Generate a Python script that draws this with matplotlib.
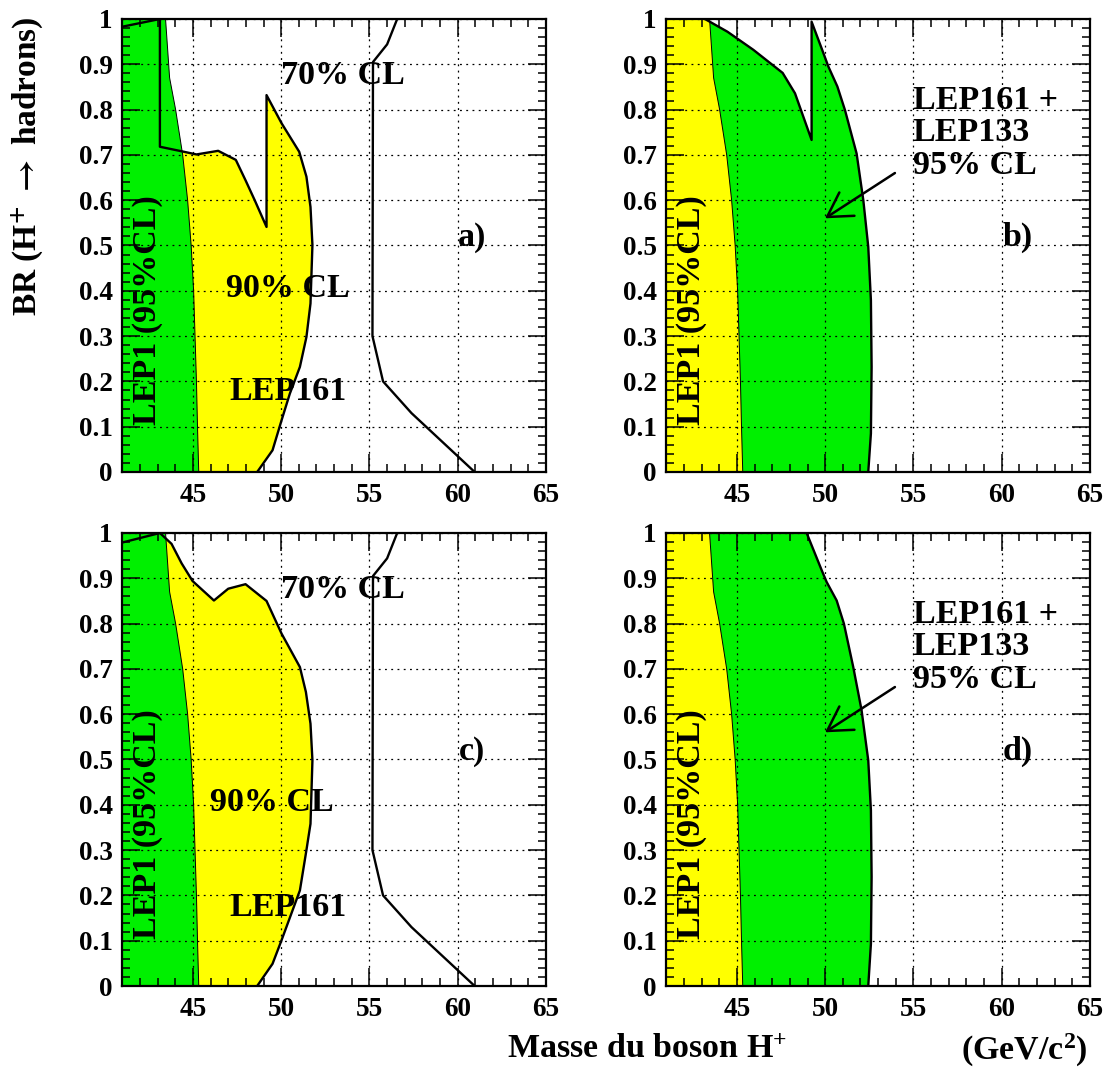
import matplotlib
matplotlib.use('Agg')
import matplotlib.pyplot as plt
from matplotlib.ticker import MultipleLocator, FuncFormatter

plt.rcParams['font.family'] = 'Liberation Serif'
plt.rcParams['font.weight'] = 'bold'
plt.rcParams['mathtext.fontset'] = 'custom'
plt.rcParams['mathtext.rm'] = 'Liberation Serif:bold'
plt.rcParams['mathtext.it'] = 'Liberation Serif:bold'
plt.rcParams['mathtext.bf'] = 'Liberation Serif:bold'

# LEP1 95% CL excluded region (boundary, mass vs BR)
lep1_br = [0.0, 0.1, 0.2, 0.3, 0.4, 0.5, 0.6, 0.7, 0.8, 0.87, 1.0]
lep1_mass = [45.33, 45.26, 45.2, 45.12, 45.04, 44.9, 44.7, 44.42, 44.02, 43.68, 43.45]

# LEP161 90% CL contour, panel a
cl90_a_mass = [41.0, 43.13, 43.13, 44.36, 45.2, 46.43, 47.43, 47.98, 48.5, 49.17, 49.17, 50.02,
               51.02, 51.43, 51.66, 51.77, 51.66, 51.43, 51.06, 50.49, 50.02, 49.51, 48.64]
cl90_a_br = [0.983, 1.0, 0.718, 0.708, 0.701, 0.709, 0.689, 0.644, 0.6, 0.541, 0.832, 0.77,
             0.707, 0.652, 0.585, 0.501, 0.372, 0.298, 0.232, 0.173, 0.114, 0.048, 0.0]

# LEP161 90% CL contour, panel c
cl90_c_mass = [41.0, 43.13, 43.79, 44.36, 44.98, 46.19, 47.0, 47.98, 49.17, 50.02, 51.06, 51.4,
               51.66, 51.77, 51.66, 51.43, 51.06, 50.02, 49.51, 48.64]
cl90_c_br = [0.979, 1.0, 0.976, 0.933, 0.894, 0.851, 0.877, 0.887, 0.85, 0.778, 0.704, 0.649,
             0.579, 0.498, 0.358, 0.3, 0.211, 0.101, 0.049, 0.0]

# LEP161 70% CL contour (a and c)
cl70_mass = [56.57, 56.0, 55.2, 55.17, 55.77, 57.38, 60.96]
cl70_br = [1.0, 0.944, 0.905, 0.3, 0.2, 0.13, 0.0]

# LEP161 + LEP133 95% CL, panel b
comb_b_mass = [43.19, 44.46, 45.93, 47.59, 48.29, 49.23, 49.23, 49.8, 50.18, 50.69, 51.12,
               51.78, 52.16, 52.44, 52.59, 52.63, 52.59, 52.44]
comb_b_br = [1.0, 0.972, 0.932, 0.881, 0.836, 0.733, 0.994, 0.935, 0.895, 0.851, 0.799,
             0.703, 0.6, 0.497, 0.379, 0.232, 0.085, 0.0]

# LEP161 + LEP133 95% CL, panel d
comb_d_mass = [48.95, 49.8, 50.08, 50.65, 51.06, 51.59, 52.06, 52.44, 52.59, 52.63, 52.59, 52.44]
comb_d_br = [1.0, 0.918, 0.892, 0.851, 0.8, 0.704, 0.609, 0.498, 0.388, 0.241, 0.093, 0.0]

GREEN = '#00f000'
YELLOW = '#ffff00'
W, H = 1108, 1073
fig = plt.figure(figsize=(W / 100, H / 100), dpi=100)


def make_axes(left_px, bottom_px):
    ax = fig.add_axes([left_px / W, 1 - bottom_px / H, 423.7 / W, 453 / H])
    ax.set_xlim(41, 65)
    ax.set_ylim(0, 1)
    ax.xaxis.set_major_locator(MultipleLocator(5))
    ax.xaxis.set_minor_locator(MultipleLocator(1))
    ax.yaxis.set_major_locator(MultipleLocator(0.1))
    ax.yaxis.set_minor_locator(MultipleLocator(0.02))
    ax.yaxis.set_major_formatter(FuncFormatter(lambda v, p: '%g' % round(v, 2)))
    ax.tick_params(which='both', direction='in', top=True, right=True, width=1.1,
                   labelsize=19.5)
    ax.tick_params(which='major', length=13)
    ax.tick_params(which='minor', length=6)
    ax.tick_params(axis='x', pad=8)
    ax.tick_params(axis='y', pad=7)
    ax.set_axisbelow(False)
    ax.grid(which='major', color='black', lw=0.9, linestyle=(0, (1.5, 3.5)))
    for s in ax.spines.values():
        s.set_linewidth(1.6)
    for lab in ax.get_xticklabels() + ax.get_yticklabels():
        lab.set_fontweight('bold')
    return ax


def lep1_poly():
    return [41.0] + lep1_mass + [41.0], [0.0] + lep1_br + [1.0]


def draw_left(ax, m90, b90):
    ax.fill(m90 + [41.0], b90 + [0.0], color=YELLOW, lw=0, zorder=1)
    xm, yb = lep1_poly()
    ax.fill(xm, yb, color=GREEN, lw=0, zorder=1.2)
    ax.plot(lep1_mass, lep1_br, color='black', lw=0.7, zorder=3)
    ax.plot(m90, b90, color='black', lw=1.7, zorder=3)
    ax.plot(cl70_mass, cl70_br, color='black', lw=1.7, zorder=3)


def draw_right(ax, mc, bc):
    ax.fill([41.0] + mc + [41.0], [1.0] + bc + [0.0], color=GREEN, lw=0, zorder=1)
    xm, yb = lep1_poly()
    ax.fill(xm, yb, color=YELLOW, lw=0, zorder=1.2)
    ax.plot(lep1_mass, lep1_br, color='black', lw=0.7, zorder=3)
    ax.plot(mc, bc, color='black', lw=1.7, zorder=3)


fs = 24.5
ax_a = make_axes(122.3, 472)
ax_b = make_axes(666.3, 472)
ax_c = make_axes(122.3, 986)
ax_d = make_axes(666.3, 986)

draw_left(ax_a, cl90_a_mass, cl90_a_br)
draw_left(ax_c, cl90_c_mass, cl90_c_br)
draw_right(ax_b, comb_b_mass, comb_b_br)
draw_right(ax_d, comb_d_mass, comb_d_br)

ax_a.text(53.5, 0.876, '70% CL', fontsize=fs, ha='center', va='center', zorder=4)
ax_a.text(50.4, 0.406, '90% CL', fontsize=fs, ha='center', va='center', zorder=4)
ax_a.text(50.4, 0.177, 'LEP161', fontsize=fs, ha='center', va='center', zorder=4)
ax_a.text(60.8, 0.517, 'a)', fontsize=fs, ha='center', va='center', zorder=4)

ax_c.text(53.5, 0.876, '70% CL', fontsize=fs, ha='center', va='center', zorder=4)
ax_c.text(49.5, 0.406, '90% CL', fontsize=fs, ha='center', va='center', zorder=4)
ax_c.text(50.4, 0.174, 'LEP161', fontsize=fs, ha='center', va='center', zorder=4)
ax_c.text(60.8, 0.517, 'c)', fontsize=fs, ha='center', va='center', zorder=4)

for ax, lab in [(ax_b, 'b)'), (ax_d, 'd)')]:
    ax.text(54.95, 0.855, 'LEP161 +\nLEP133\n95% CL', fontsize=fs, ha='left', va='top',
            linespacing=1.07, zorder=4)
    ax.annotate('', xy=(49.99, 0.56), xytext=(53.95, 0.66),
                arrowprops=dict(arrowstyle='->,head_length=0.85,head_width=0.5',
                                lw=1.8, color='black', mutation_scale=20, shrinkA=0, shrinkB=0),
                zorder=4)
    ax.text(60.9, 0.517, lab, fontsize=fs, ha='center', va='center', zorder=4)

for ax in [ax_a, ax_b, ax_c, ax_d]:
    ax.text(42.4, 0.357, 'LEP1 (95%CL)', fontsize=fs, rotation=90, ha='center',
            va='center', zorder=4)

fig.text(27 / W, 1 - 166 / H, r'BR (H$^{\mathbf{+}}$ $\rightarrow$ hadrons)', rotation=90,
         ha='center', va='center', fontsize=24, fontweight='bold', math_fontfamily='stix')
fig.text(647 / W, 1 - 1050 / H, 'Masse du boson H$^{+}$', ha='center', va='center',
         fontsize=24.5, fontweight='bold')
fig.text(1024 / W, 1 - 1050 / H, '(GeV/c$^{2}$)', ha='center', va='center',
         fontsize=24.5, fontweight='bold')

fig.savefig('out.png', dpi=100)
